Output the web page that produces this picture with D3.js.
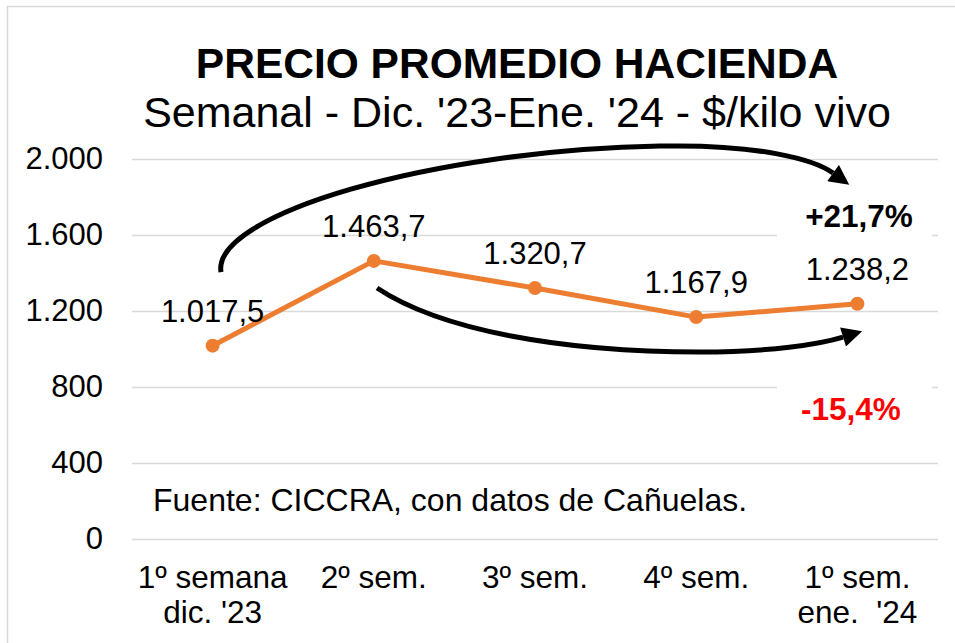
<!DOCTYPE html>
<html>
<head>
<meta charset="utf-8">
<script src="https://cdn.jsdelivr.net/npm/d3@7"></script>
<style>
  body { margin: 0; background: #fff; }
  text { font-family: "Liberation Sans", Arial, sans-serif; }
</style>
</head>
<body>
<script>
// data
var categories = ["w1", "w2", "w3", "w4", "w5"];
var catLabels = [["1º semana", "dic. '23"], ["2º sem."], ["3º sem."], ["4º sem."], ["1º sem.", "ene.  '24"]];
var precios = [1017.5, 1463.7, 1320.7, 1167.9, 1238.2];
var yTicks = [0, 400, 800, 1200, 1600, 2000];
var cambios = [["+21,7%", "#000000", 1660], ["-15,4%", "#ff0000", 640]];

// annotation arcs, in [category index, value]
var arcUp = [[0.052, 1405], [-0.004, 1705], [1.349, 2047], [2.775, 2068], [3.396, 2079], [3.737, 1995], [3.849, 1926]];
var arcDown = [[1.02, 1321], [1.411, 1100], [2.156, 984], [3.024, 984], [3.458, 984], [3.768, 1026], [3.911, 1063]];

var W = 955, H = 643;
var loc = d3.formatLocale({ decimal: ",", thousands: ".", grouping: [3], currency: ["$", ""] });
var fmtTick = loc.format(",.0f");
var fmtVal = loc.format(",.1f");

var svg = d3.select("body").append("svg")
    .attr("width", W).attr("height", H);

svg.append("rect")
    .attr("x", 7.5).attr("y", 6.5)
    .attr("width", W + 10).attr("height", H + 10)
    .attr("fill", "#fff")
    .attr("stroke", "#d9d9d9").attr("stroke-width", 1.5);

var x = d3.scalePoint().domain(categories).range([132, 938]).padding(0.5);
var y = d3.scaleLinear().domain([0, 2000]).range([539, 159]);

function px(i) { return x(categories[0]) + i * x.step(); }

// gridlines + y labels
var gy = svg.append("g")
    .attr("transform", "translate(132,0)")
    .call(d3.axisLeft(y).tickValues(yTicks).tickSize(-(938 - 132)).tickPadding(29).tickFormat(fmtTick));
gy.select(".domain").remove();
gy.selectAll(".tick line").attr("stroke", "#d9d9d9").attr("stroke-width", 1.5);
gy.selectAll(".tick text")
    .attr("font-size", "31px").attr("fill", "#000")
    .attr("font-family", "Liberation Sans, Arial, sans-serif");

// x labels
var gx = svg.append("g");
gx.selectAll("text.xl")
    .data(categories)
    .enter().append("text")
    .attr("class", "xl")
    .attr("x", function (d) { return x(d); })
    .attr("y", 588)
    .attr("text-anchor", "middle")
    .attr("font-size", "31.5px")
    .style("white-space", "pre")
    .each(function (d, i) {
        var t = d3.select(this);
        catLabels[i].forEach(function (s, k) {
            t.append("tspan").attr("x", x(d)).attr("dy", k === 0 ? 0 : 35).text(s);
        });
    });

// title
svg.append("text")
    .attr("x", 517).attr("y", 78)
    .attr("text-anchor", "middle")
    .attr("font-size", "42.5px").attr("font-weight", "bold")
    .text("PRECIO PROMEDIO HACIENDA");
svg.append("text")
    .attr("x", 517).attr("y", 127)
    .attr("text-anchor", "middle")
    .attr("font-size", "43px")
    .text("Semanal - Dic. '23-Ene. '24 - $/kilo vivo");

// source
svg.append("text")
    .attr("x", 153).attr("y", 511)
    .attr("font-size", "32px")
    .text("Fuente: CICCRA, con datos de Cañuelas.");

// white boxes + percent labels
svg.selectAll("rect.pbox")
    .data(cambios)
    .enter().append("rect")
    .attr("class", "pbox")
    .attr("x", px(3.5)).attr("width", 932 - px(3.5))
    .attr("y", function (d) { return y(d[2]) - 32; })
    .attr("height", 55)
    .attr("fill", "#fff");
svg.selectAll("text.pct")
    .data(cambios)
    .enter().append("text")
    .attr("class", "pct")
    .attr("x", function (d, i) { return px(i === 0 ? 4.01 : 3.96); })
    .attr("y", function (d) { return y(d[2]) + 3; })
    .attr("text-anchor", "middle")
    .attr("font-size", "31.5px").attr("font-weight", "bold")
    .attr("fill", function (d) { return d[1]; })
    .text(function (d) { return d[0]; });

// arrows
svg.append("defs").append("marker")
    .attr("id", "head")
    .attr("viewBox", "0 0 10 10")
    .attr("refX", 0).attr("refY", 5)
    .attr("markerUnits", "userSpaceOnUse")
    .attr("markerWidth", 22).attr("markerHeight", 20)
    .attr("orient", "auto")
    .append("path").attr("d", "M0,0 L10,5 L0,10 z").attr("fill", "#000");

function arcPath(pts) {
    var p = pts.map(function (d) { return [px(d[0]), y(d[1])]; });
    return "M" + p[0] + "C" + p[1] + " " + p[2] + " " + p[3] + "C" + p[4] + " " + p[5] + " " + p[6];
}
svg.selectAll("path.arc")
    .data([arcUp, arcDown])
    .enter().append("path")
    .attr("class", "arc")
    .attr("d", arcPath)
    .attr("fill", "none")
    .attr("stroke", "#000")
    .attr("stroke-width", 5)
    .attr("marker-end", "url(#head)");

// line
var line = d3.line()
    .x(function (d, i) { return x(categories[i]); })
    .y(function (d) { return y(d); });
svg.append("path")
    .datum(precios)
    .attr("d", line)
    .attr("fill", "none")
    .attr("stroke", "#ED7D31")
    .attr("stroke-width", 5)
    .attr("stroke-linejoin", "round");
svg.selectAll("circle.pt")
    .data(precios)
    .enter().append("circle")
    .attr("class", "pt")
    .attr("cx", function (d, i) { return x(categories[i]); })
    .attr("cy", function (d) { return y(d); })
    .attr("r", 7)
    .attr("fill", "#ED7D31");

// value labels
svg.selectAll("text.val")
    .data(precios)
    .enter().append("text")
    .attr("class", "val")
    .attr("x", function (d, i) { return x(categories[i]); })
    .attr("y", function (d) { return y(d) - 24; })
    .attr("text-anchor", "middle")
    .attr("font-size", "31px")
    .text(function (d) { return fmtVal(d); });
</script>
</body>
</html>
